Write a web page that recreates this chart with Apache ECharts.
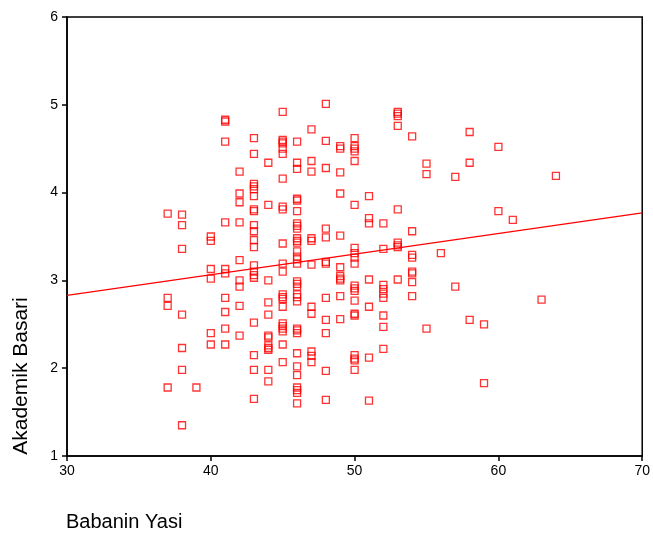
<!DOCTYPE html>
<html>
<head>
<meta charset="utf-8">
<script src="https://cdn.jsdelivr.net/npm/echarts@6/dist/echarts.min.js"></script>
<style>
html,body{margin:0;padding:0;background:#fff;}
#chart{width:653px;height:536px;}
</style>
</head>
<body>
<div id="chart"></div>
<script>
// Father's age (x) grouped by column, with academic achievement (y) values
const ages = [37,38,39,40,41,42,43,44,45,46,47,48,49,50,51,52,53,54,55,56,57,58,59,60,61,63,64];
const scoresByAge = [
  [3.76, 2.80, 2.71, 1.78],
  [3.75, 3.63, 3.36, 2.61, 2.23, 1.98, 1.35],
  [1.78],
  [3.50, 3.45, 3.13, 3.02, 2.40, 2.27],
  [4.83, 4.81, 4.58, 3.66, 3.13, 3.08, 2.80, 2.64, 2.45, 2.27],
  [4.24, 3.99, 3.89, 3.66, 3.23, 3.00, 2.93, 2.71, 2.37],
  [4.62, 4.44, 4.10, 4.07, 4.04, 3.96, 3.81, 3.79, 3.63, 3.56, 3.46, 3.38, 3.17, 3.10, 3.06, 3.03, 2.52, 2.15, 1.98, 1.65],
  [4.34, 3.86, 3.00, 2.75, 2.61, 2.37, 2.35, 2.26, 2.23, 2.21, 1.98, 1.85],
  [4.92, 4.60, 4.58, 4.56, 4.50, 4.44, 4.16, 3.84, 3.81, 3.42, 3.19, 3.10, 2.84, 2.81, 2.79, 2.70, 2.51, 2.48, 2.45, 2.42, 2.27, 2.07],
  [4.58, 4.34, 4.27, 3.93, 3.91, 3.79, 3.65, 3.62, 3.59, 3.48, 3.45, 3.43, 3.33, 3.27, 3.24, 3.19, 2.99, 2.96, 2.93, 2.84, 2.81, 2.76, 2.45, 2.43, 2.40, 2.17, 2.02, 1.92, 1.78, 1.75, 1.72, 1.60],
  [4.72, 4.36, 4.24, 3.48, 3.45, 3.18, 2.70, 2.62, 2.19, 2.14, 2.07],
  [5.01, 4.59, 4.28, 3.59, 3.49, 3.21, 3.19, 2.80, 2.55, 2.40, 1.97, 1.64],
  [4.53, 4.50, 4.23, 3.99, 3.51, 3.15, 3.05, 3.02, 3.00, 2.82, 2.56],
  [4.62, 4.53, 4.50, 4.47, 4.36, 3.86, 3.37, 3.31, 3.26, 3.19, 2.94, 2.91, 2.88, 2.77, 2.62, 2.60, 2.15, 2.11, 2.09, 1.98],
  [3.96, 3.71, 3.65, 3.01, 2.70, 2.12, 1.63],
  [3.65, 3.36, 2.95, 2.90, 2.85, 2.80, 2.60, 2.47, 2.22],
  [4.92, 4.90, 4.87, 4.76, 3.81, 3.43, 3.40, 3.38, 3.01],
  [4.64, 3.56, 3.29, 3.26, 3.10, 3.08, 2.98, 2.82],
  [4.33, 4.21, 2.45],
  [3.31],
  [4.18, 2.93],
  [4.69, 4.34, 2.55],
  [2.50, 1.83],
  [4.52, 3.79],
  [3.69],
  [2.78],
  [4.19]
];
// Fitted regression line endpoints (x, y)
const fitX = [30, 70];
const fitY = [2.83, 3.77];
const xTicks = [30, 40, 50, 60, 70];
const yTicks = [1, 2, 3, 4, 5, 6];
const xTitle = 'Babanin Yasi';
const yTitle = 'Akademik Basari';

const points = [];
ages.forEach((a, i) => scoresByAge[i].forEach(v => points.push([a, v])));
const fitData = fitX.map((x, i) => [x, fitY[i]]);

const RED = '#ff0000';
const FONT = 'Liberation Sans, Arial, sans-serif';
const chart = echarts.init(document.getElementById('chart'), null, {renderer: 'canvas'});
chart.setOption({
  animation: false,
  backgroundColor: '#fff',
  grid: {left: 67, right: 10, top: 17, bottom: 80, show: true, borderColor: '#000', borderWidth: 1.5, backgroundColor: 'transparent'},
  xAxis: {
    type: 'value', min: xTicks[0], max: xTicks[xTicks.length - 1], interval: 10,
    axisLine: {show: true, onZero: false, lineStyle: {color: '#000', width: 1.5}},
    axisTick: {show: true, length: 5, lineStyle: {color: '#000', width: 1.5}},
    axisLabel: {color: '#000', fontSize: 14, fontFamily: FONT, margin: 8},
    splitLine: {show: false}
  },
  yAxis: {
    type: 'value', min: yTicks[0], max: yTicks[yTicks.length - 1], interval: 1,
    axisLine: {show: true, onZero: false, lineStyle: {color: '#000', width: 1.5}},
    axisTick: {show: true, length: 5, lineStyle: {color: '#000', width: 1.5}},
    axisLabel: {color: '#000', fontSize: 14, fontFamily: FONT, margin: 9},
    splitLine: {show: false}
  },
  graphic: [
    {type: 'text', x: 66, y: 522, style: {text: xTitle, fill: '#000', fontSize: 20, fontFamily: FONT, textAlign: 'left', textVerticalAlign: 'middle'}},
    {type: 'text', x: 21, y: 376, rotation: Math.PI / 2, style: {text: yTitle, fill: '#000', fontSize: 21, fontFamily: FONT, textAlign: 'center', textVerticalAlign: 'middle'}}
  ],
  series: [
    {
      type: 'scatter', data: points, symbol: 'rect', symbolSize: 7,
      itemStyle: {color: 'rgba(255,255,255,0)', borderColor: RED, borderWidth: 1.3},
      emphasis: {disabled: true}
    },
    {
      type: 'line', data: fitData, symbol: 'none', silent: true,
      lineStyle: {color: RED, width: 1.2}
    }
  ]
});
</script>
</body>
</html>
